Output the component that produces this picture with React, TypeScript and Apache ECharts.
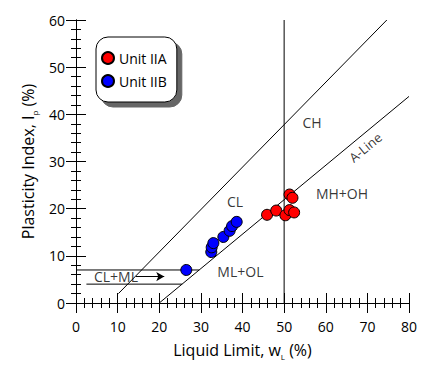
import React, { useEffect, useRef } from "react";
import * as echarts from "echarts";

// Data
const LL_IIA = [45.9, 48.1, 50.3, 51.3, 52.4, 51.3, 52.0];
const PI_IIA = [18.7, 19.6, 18.6, 19.7, 19.2, 23.0, 22.3];
const LL_IIB = [26.5, 32.5, 32.6, 33.0, 35.4, 36.9, 37.5, 38.6];
const PI_IIB = [7.0, 10.8, 11.8, 12.7, 14.0, 15.3, 16.3, 17.2];

// Reference lines (LL, PI)
const U_LINE = [[10.2, 2], [74.67, 60]];
const A_LINE = [[20, 0], [80, 43.8]];
const WL50_LINE = [[50, 0], [50, 60]];
const CLML_UPPER = [[0, 7], [29.6, 7]];
const CLML_LOWER = [[2.5, 4], [25.5, 4]];
const ARROW = [[14.4, 5.6], [21.2, 5.6]];

// Zone labels
const ZONE_NAMES = ["CL", "CH", "ML+OL", "MH+OH", "CL+ML", "A-Line"];
const ZONE_POS = [[38.2, 21.6], [56.7, 38.3], [39.5, 6.6], [63.9, 23.2], [9.6, 5.6], [69.5, 33.0]];

const X_TICKS = [0, 80, 10];
const Y_TICKS = [0, 60, 10];

const FONT = "'Open Sans', sans-serif";

function lineSeries(data: number[][]) {
  return {
    type: "line",
    data,
    showSymbol: false,
    symbol: "none",
    lineStyle: { color: "#000", width: 1 },
    silent: true,
    z: 2,
  };
}

export default function App() {
  const ref = useRef<HTMLDivElement>(null);
  useEffect(() => {
    document.body.style.margin = "0";
    const chart = echarts.init(ref.current!, undefined, { renderer: "svg" });
    const axisCommon = {
      type: "value",
      axisLine: { show: true, lineStyle: { color: "#000", width: 1 } },
      axisTick: { show: true, inside: true, length: 10, lineStyle: { color: "#000" } },
      minorTick: { show: true, splitNumber: 5, length: 5, lineStyle: { color: "#000" } },
      splitLine: { show: false },
      minorSplitLine: { show: false },
    };
    const labelStyle = { color: "#000", fontSize: 14, fontFamily: FONT };
    const nameRich = {
      a: { fontSize: 16, fontFamily: FONT, color: "#000", lineHeight: 21 },
      s: { fontSize: 8, fontFamily: FONT, color: "#000", verticalAlign: "bottom", lineHeight: 10 },
    };
    chart.setOption({
      animation: false,
      backgroundColor: "#fff",
      grid: { left: 76, top: 20, width: 333, height: 283, containLabel: false },
      xAxis: [
        {
          ...axisCommon,
          position: "bottom",
          min: X_TICKS[0],
          max: X_TICKS[1],
          interval: X_TICKS[2],
          axisLabel: { ...labelStyle, margin: 16 },
          name: "{a|Liquid Limit, w}{s|L}{a| (%)}",
          nameLocation: "middle",
          nameGap: 36,
          nameTextStyle: { rich: nameRich },
        },
        {
          ...axisCommon,
          position: "top",
          min: X_TICKS[0],
          max: X_TICKS[1],
          interval: X_TICKS[2],
          axisLabel: { show: false },
        },
      ],
      yAxis: [
        {
          ...axisCommon,
          position: "left",
          min: Y_TICKS[0],
          max: Y_TICKS[1],
          interval: Y_TICKS[2],
          axisLabel: { ...labelStyle, margin: 11 },
          name: "{a|Plasticity Index, I}{s|p}{a| (%)}",
          nameLocation: "middle",
          nameGap: 38,
          nameTextStyle: { rich: nameRich },
        },
        {
          ...axisCommon,
          position: "right",
          min: Y_TICKS[0],
          max: Y_TICKS[1],
          interval: Y_TICKS[2],
          axisLabel: { show: false },
        },
      ],
      legend: {
        data: ["Unit IIA", "Unit IIB"],
        orient: "vertical",
        left: 96,
        top: 37,
        icon: "circle",
        itemWidth: 12,
        itemHeight: 12,
        itemGap: 9,
        textStyle: { fontSize: 14, fontFamily: FONT, color: "#000" },
        backgroundColor: "#fff",
        borderColor: "#000",
        borderWidth: 1,
        borderRadius: 12,
        padding: [14, 10, 14, 5],
        shadowColor: "rgba(0,0,0,0.6)",
        shadowBlur: 1,
        shadowOffsetX: 5,
        shadowOffsetY: 5,
      },
      series: [
        lineSeries(U_LINE),
        lineSeries(A_LINE),
        lineSeries(WL50_LINE),
        lineSeries(CLML_UPPER),
        lineSeries(CLML_LOWER),
        {
          type: "line",
          data: [],
          silent: true,
          markLine: {
            silent: true,
            symbol: ["none", "arrow"],
            symbolSize: [7, 8],
            label: { show: false },
            lineStyle: { color: "#000", width: 1, type: "solid" },
            data: [[{ coord: ARROW[0] }, { coord: ARROW[1] }]],
          },
        },
        {
          type: "scatter",
          name: "zones",
          symbolSize: 0,
          silent: true,
          z: 3,
          data: ZONE_NAMES.map((n, i) => ({
            name: n,
            value: ZONE_POS[i],
            label:
              n === "A-Line"
                ? { rotate: 39.6, fontSize: 13 }
                : undefined,
          })),
          label: {
            show: true,
            position: "inside",
            formatter: (p: any) => p.name,
            color: "#000",
            fontSize: 14,
            fontFamily: FONT,
          },
        },
        {
          type: "scatter",
          name: "Unit IIA",
          data: LL_IIA.map((x, i) => [x, PI_IIA[i]]),
          symbolSize: 11,
          itemStyle: { color: "#ff0000", borderColor: "#000", borderWidth: 1, opacity: 1 },
          z: 5,
        },
        {
          type: "scatter",
          name: "Unit IIB",
          data: LL_IIB.map((x, i) => [x, PI_IIB[i]]),
          symbolSize: 11,
          itemStyle: { color: "#0000ff", borderColor: "#000", borderWidth: 1, opacity: 1 },
          z: 5,
        },
      ],
    });
    return () => chart.dispose();
  }, []);
  return <div ref={ref} style={{ width: 433, height: 371 }} />;
}
